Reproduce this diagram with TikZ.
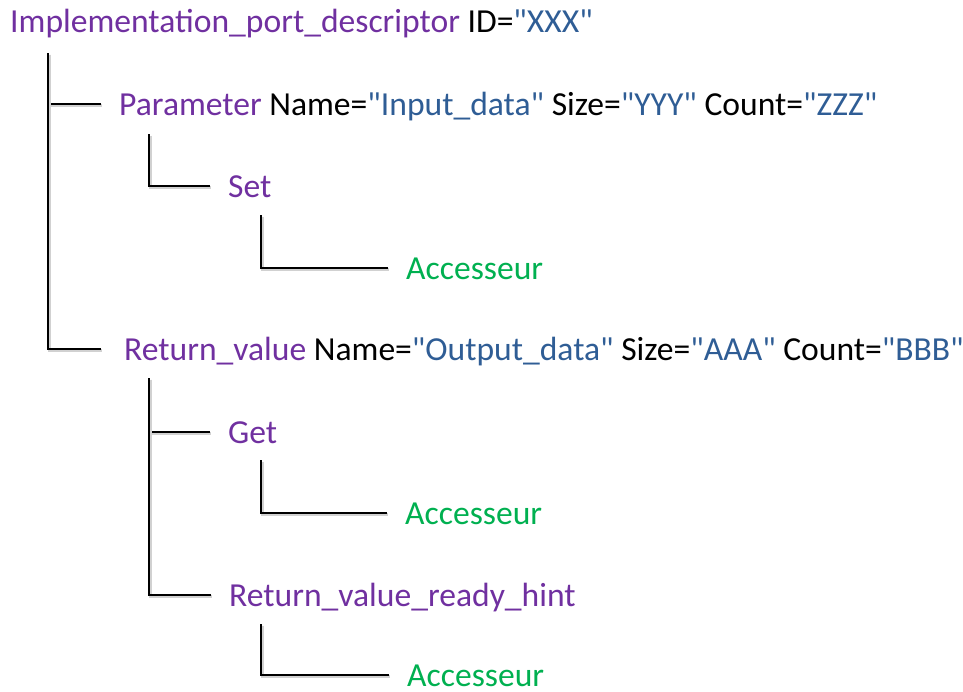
\documentclass[tikz,border=0pt]{standalone}
\usepackage{fontspec}
\newfontfamily\lblfont{Carlito}
\definecolor{tagc}{HTML}{7030A0}
\definecolor{valc}{HTML}{2F5D95}
\definecolor{accc}{HTML}{00B050}
\begin{document}
\begin{tikzpicture}[x=1pt, y=-1pt,
    lbl/.style={anchor=base west, inner sep=0pt, text height=22pt, text depth=0pt,
                font=\lblfont\fontsize{33.6}{40}\selectfont},
    branch/.style={line width=2.5pt, shorten >=18pt,
                   preaction={draw=black!18, line width=2.8pt,
                              transform canvas={shift={(1.2pt,-1.6pt)}}}}]
  \useasboundingbox (0,0) rectangle (963,691);

  % === element nodes (baseline positions) ===
  \node[lbl] (root) at (10,32) {{\color{tagc}Implementation\_port\_descriptor} ID={\color{valc}"XXX"}};
  \node[lbl] (param) at (119,115) {{\color{tagc}Parameter} Name={\color{valc}"Input\_data"} Size={\color{valc}"YYY"} Count={\color{valc}"ZZZ"}};
  \node[lbl, text=tagc] (set) at (228,197) {Set};
  \node[lbl, text=accc] (setacc) at (406,279) {Accesseur};
  \node[lbl] (retval) at (124,360) {{\color{tagc}Return\_value} Name={\color{valc}"Output\_data"} Size={\color{valc}"AAA"} Count={\color{valc}"BBB"}};
  \node[lbl, text=tagc] (get) at (228,443) {Get};
  \node[lbl, text=accc] (getacc) at (405,524) {Accesseur};
  \node[lbl, text=tagc] (hint) at (229,606) {Return\_value\_ready\_hint};
  \node[lbl, text=accc] (hintacc) at (407,686) {Accesseur};

  % === stem starts below each parent ===
  \coordinate (rootstem) at (48,53);
  \coordinate (paramstem) at (149,134);
  \coordinate (setstem) at (261,215);
  \coordinate (retstem) at (149,378);
  \coordinate (getstem) at (261,460);
  \coordinate (hintstem) at (261,624);

  % === tree connectors ===
  \draw[branch] (rootstem) |- (param.west);
  \draw[branch, shorten >=23pt] (rootstem) |- (retval.west);
  \draw[branch] (paramstem) |- (set.west);
  \draw[branch] (setstem) |- (setacc.west);
  \draw[branch] (retstem) |- (get.west);
  \draw[branch] (retstem) |- (hint.west);
  \draw[branch] (getstem) |- (getacc.west);
  \draw[branch] (hintstem) |- (hintacc.west);
\end{tikzpicture}
\end{document}
